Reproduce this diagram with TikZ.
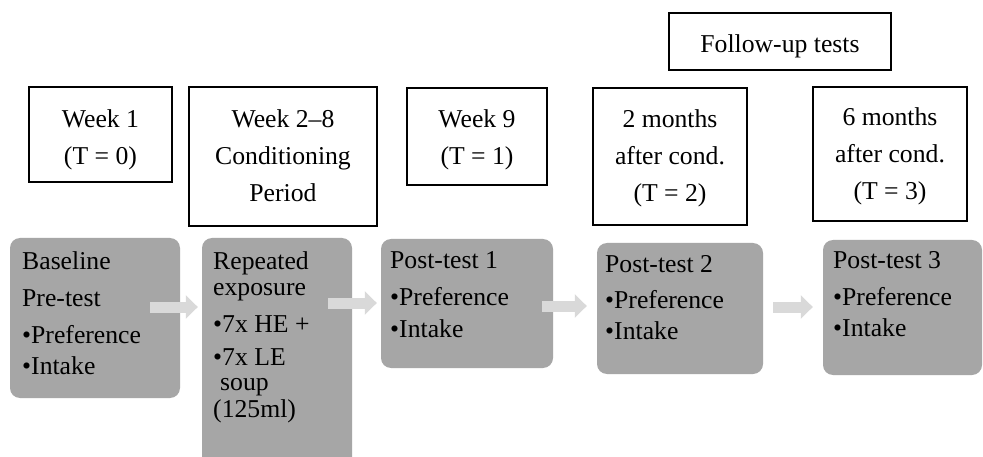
\documentclass[tikz,border=0pt]{standalone}
\usepackage{fontspec}
\setmainfont{Liberation Serif}
\usetikzlibrary{arrows.meta,calc}
\definecolor{boxgrey}{HTML}{A6A6A6}
\definecolor{arrowgrey}{HTML}{D9D9D9}

\begin{document}
\begin{tikzpicture}[x=1pt,y=-1pt,
  txt/.style={font=\fontsize{25.7}{37}\selectfont, inner sep=0pt},
  toptxt/.style={txt, align=center, anchor=north},
  greytxt/.style={txt, align=left, anchor=north west},
  periodbox/.style={draw=black, line width=1.6pt, inner sep=0pt, fill=white},
  stagebox/.style={fill=boxgrey, rounded corners=10pt, inner sep=0pt},
  flow/.style={arrowgrey, line width=11pt, -{Triangle[length=12pt,width=23pt]}},
]
\useasboundingbox[fill=white] (0,0) rectangle (983,457);

% time-point boxes
\node[periodbox, minimum width=143pt, minimum height=95pt]  (w1) at (100.5,134.5) {};
\node[periodbox, minimum width=188pt, minimum height=139pt] (w2) at (283,156.5) {};
\node[periodbox, minimum width=140pt, minimum height=97pt]  (w9) at (477,136.5) {};
\node[periodbox, minimum width=154pt, minimum height=137pt] (m2) at (670,156.5) {};
\node[periodbox, minimum width=154pt, minimum height=134pt] (m6) at (890,154) {};
\node[periodbox, minimum width=222pt, minimum height=57pt]  (fu) at (780,41.5) {};

\node[toptxt] (w1t) at (100.5,109.5) {Week 1\\(T = 0)};
\node[toptxt] (w2t) at (283,109.5) {Week 2–8\\Conditioning\\Period};
\node[toptxt] (w9t) at (477,109.5) {Week 9\\(T = 1)};
\node[toptxt] (m2t) at (670,109.5) {2 months\\after cond.\\(T = 2)};
\node[toptxt] (m6t) at (890,107.5) {6 months\\after cond.\\(T = 3)};
\node[toptxt] (fut) at (780,34.5) {Follow-up tests};

% measurement stages
\node[stagebox, minimum width=170pt, minimum height=160pt] (g1) at (95,318) {};
\node[stagebox, minimum width=150pt, minimum height=240pt] (g2) at (277,358) {};
\node[stagebox, minimum width=172pt, minimum height=129pt] (p1) at (467,303.5) {};
\node[stagebox, minimum width=166pt, minimum height=131pt] (p2) at (680,308.5) {};
\node[stagebox, minimum width=159pt, minimum height=135pt] (p3) at (902.5,307.5) {};

\node[greytxt] (g1t) at (22,251.5) {Baseline\\Pre-test\\•Preference\\[-6pt]•Intake};
\node[greytxt] (g2t) at (213,251.5) {Repeated\\[-11pt]exposure\\•7x HE +\\[-4pt]•7x LE\\[-12pt]\hspace*{7pt}soup\\[-10pt](125ml)};
\node[greytxt] (p1t) at (390,251.5) {Post-test 1\\•Preference\\[-5pt]•Intake};
\node[greytxt] (p2t) at (605,255.5) {Post-test 2\\[-1pt]•Preference\\[-6pt]•Intake};
\node[greytxt] (p3t) at (833,251.5) {Post-test 3\\•Preference\\[-6pt]•Intake};

% flow arrows
\draw[flow, shorten >=4pt]  ($(g1.east |- 0,307)+(-30,0)$) -- (g2.west |- 0,307);
\draw[flow, shorten >=4pt]  ($(g2.east |- 0,303)+(-24,0)$) -- (p1.west |- 0,303);
\draw[flow, shorten >=10pt] ($(p1.east |- 0,306)+(-11,0)$) -- (p2.west |- 0,306);
\draw[flow, shorten >=10pt] ($(p2.east |- 0,307)+(10,0)$)  -- (p3.west |- 0,307);
\end{tikzpicture}
\end{document}
